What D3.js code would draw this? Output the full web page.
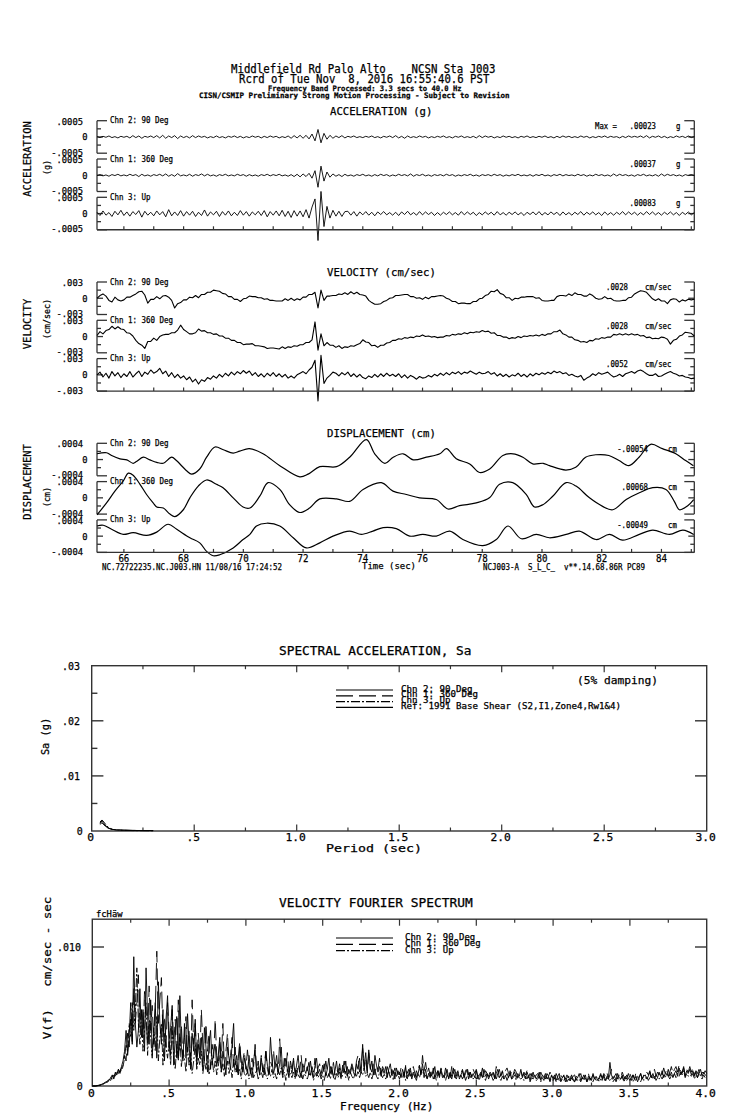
<!DOCTYPE html>
<html><head><meta charset="utf-8">
<script src="https://cdn.jsdelivr.net/npm/d3@7"></script>
<style>
body{margin:0;background:#fff}
svg{display:block}
text{font-family:"DejaVu Sans Mono","Liberation Mono",monospace;fill:#000;white-space:pre;stroke:#000;stroke-width:0.25px}
</style>
</head><body>
<svg id="chart" width="739" height="1115"></svg>
<script>
// ---------------- DATA ----------------
const channelNames = ["Chn 2: 90 Deg", "Chn 1: 360 Deg", "Chn 3: Up"];
const TIME_START = 65.1, SAMPLE_DT = 0.1;          // seconds, time-series sampling
const timeDomain = [65.1, 85.1];
const timeTickLabels = [66, 68, 70, 72, 74, 76, 78, 80, 82, 84];

// Acceleration, units of 1e-5 g
const ACC_UNIT = 1e-5;
const accChn2 = [1,-2,2,-1,3,-2,1,-3,2,-1, 2,-3,4,-2,3,-4,2,-1,3,-2, 4,-3,5,-4,3,-2,4,-5,3,-2, 2,-3,4,-2,3,-1,2,-3,1,-2,
 3,-2,1,-3,2,-1,3,-2,2,-3, 1,-2,3,-1,2,-3,2,-2,3,-1, 2,-3,1,-2,3,-4,4,-3,5,-4, 5,-6,9,-12,23,-18,11,-7,5,-4,
 3,-2,4,-3,2,-1,3,-2,1,-2, 2,-1,3,-2,1,-3,2,-1,3,-2, 4,-3,2,-4,3,-2,1,-2,3,-1, 2,-3,1,-2,2,-1,3,-2,1,-3,
 2,-1,3,-2,1,-2,2,-3,4,-2, 3,-1,2,-3,1,-2,3,-1,2,-2, 1,-3,2,-1,3,-2,1,-2,2,-1, 3,-2,1,-3,2,-2,3,-1,2,-2,
 1,-2,3,-1,2,-3,1,-2,2,-1, 3,-2,2,-1,1,-3,2,-2,3,-1, 2,-1,3,-2,4,-3,2,-1,3,-2, 2,-3,1,-2,3,-1,2,-2,3,-2, 1];
const accChn1 = [-1,2,-2,1,-3,2,-1,3,-2,1, -2,3,-1,2,-4,3,-2,1,-3,2, -1,3,-2,4,-3,2,-3,5,-2,1, -2,3,-3,2,-1,4,-2,3,-2,1,
 -3,2,-1,3,-2,1,-2,3,-1,2, -3,2,-2,1,-3,2,-1,3,-2,2, -1,3,-2,1,-3,2,-4,3,-5,4, -4,6,-9,14,-37,28,-18,10,-6,4,
 -3,2,-4,3,-2,1,-3,2,-1,3, -2,1,-3,2,-2,3,-1,2,-3,1, -2,3,-1,2,-2,4,-3,2,-1,3, -2,1,-3,2,-1,2,-2,3,-1,2,
 -3,1,-2,2,-1,3,-2,1,-3,2, -1,2,-2,3,-1,2,-3,1,-2,2, -1,3,-2,1,-2,2,-3,2,-1,3, -2,1,-3,2,-1,3,-2,2,-1,1,
 -2,3,-1,2,-3,1,-2,3,-1,2, -2,1,-3,4,-2,3,-1,2,-2,1, -3,2,-1,3,-2,1,-2,2,-3,4, -2,3,-1,2,-2,1,-3,2,-1,2, -1];
const accChn3 = [4,-6,8,-5,3,-9,7,-4,10,-6, 5,-8,6,-3,9,-11,7,-5,4,-7, 8,-4,6,-10,12,-7,5,-6,9,-8, 6,-5,7,-9,4,-6,11,-8,5,-4,
 7,-9,6,-5,8,-7,4,-6,9,-5, 6,-8,5,-4,7,-6,9,-10,6,-5, 8,-7,10,-9,7,-12,9,-8,8,-10, 12,-14,20,45,-83,68,-40,22,-14,10,
 -8,7,-9,6,7,-5,6,-8,5,-4, 6,-5,4,-7,5,-3,6,-4,3,-5, 4,-6,5,-3,7,-4,3,-5,6,-4, 5,-3,4,-6,3,-5,4,-3,5,-4,
 3,-5,6,-4,5,-3,4,-6,3,-4, 5,-3,4,-5,6,-4,3,-5,4,-3, 5,-4,3,-6,4,-3,5,-4,6,-5, 3,-4,5,-3,4,-6,5,-4,3,-5,
 4,-3,6,-5,4,-3,5,-4,3,-6, 5,-4,3,-5,4,-3,6,-4,5,-3, 4,-5,3,-4,6,-3,5,-4,3,-5, 4,-3,5,-4,3,-6,4,-3,5,-4, 3];
const accTickLabels = [".0005", "0", "-.0005"];
const accMaxLabels = [".00023", ".00037", ".00083"];

// Velocity, units of 1e-4 cm/sec
const VEL_UNIT = 1e-4;
const velChn2 = [0,5,8,4,-4,-7,2,-3,-5,-3, 2,2,5,8,12,13,6,-9,-2,-2, 3,-1,4,5,2,-4,-18,-10,-8,-3, -3,2,1,5,1,7,7,11,11,15,
 14,13,9,8,3,3,-2,-2,-6,-1, 0,4,3,3,1,1,-2,-1,-4,-4, -5,-5,-5,-1,-4,0,-4,-1,-3,2, 2,7,7,11,-18,15,-4,4,4,5,
 5,8,7,10,7,12,8,11,7,6, 4,-4,-8,-11,-11,-10,-6,-4,0,1, 5,5,6,7,7,3,3,0,1,-2, 2,-1,3,3,4,5,4,0,-2,-6,
 -6,-10,-9,-9,-10,-10,-6,-6,-1,0, 5,7,13,12,16,9,7,1,1,-4, 0,-1,2,2,3,3,3,0,1,-4, -5,-5,-4,-4,3,5,5,4,8,5,
 10,7,7,4,4,8,5,0,-2,-1, 3,-1,0,-4,-5,-5,-4,-4,1,2, 8,11,14,13,11,5,-1,-4,-1,-5, -5,-10,-3,-1,-2,-7,-3,-5,-2,-3, -2];
const velChn1 = [2,9,5,11,13,19,14,18,14,13, 7,6,1,-7,-13,-16,-22,-9,-9,-3, -7,0,3,4,4,7,7,12,21,13, 9,5,5,7,14,10,11,7,7,4,
 5,1,1,-3,-3,-7,-7,-11,-11,-15, -14,-14,-13,-17,-17,-18,-19,-22,-21,-21, -22,-23,-19,-22,-19,-20,-17,-18,-15,-15, -11,-11,-6,27,-25,5,-17,-11,-16,-16,
 -20,-17,-22,-19,-20,-17,-18,-15,-13,-6, -10,-11,-17,-16,-20,-16,-16,-12,-11,-7, -7,-4,-5,-2,-3,-1,-2,1,0,3, 0,1,-1,0,-2,-1,-1,2,1,4,
 3,5,4,7,5,8,7,9,8,11, 9,10,6,7,2,2,-1,-1,-4,-2, -3,0,-2,1,0,2,1,3,1,4, 2,5,5,9,9,12,5,3,-1,-1,
 -6,-7,-10,-9,-11,-7,-8,-4,-5,-2, -3,-1,-1,4,3,5,3,5,3,5, 3,4,1,2,-2,-1,-4,-3,-4,-1, -2,-5,-14,-7,-5,1,3,8,7,6, 1];
const velChn3 = [0,5,-4,3,-6,6,-2,4,-5,2, -3,6,-4,2,7,-3,5,1,9,3, 6,12,2,7,-3,4,-5,1,-6,-2, -9,-4,-13,-8,-17,-9,-12,-5,-8,-2,
 -6,1,-4,3,-2,5,0,6,2,8, 3,7,-1,4,-3,2,-4,3,-2,4, -3,2,-4,1,-6,-2,-6,0,3,6, 2,9,14,27,-48,36,-16,-6,-1,5,
 3,-2,4,0,5,-3,2,-4,1,-5, -7,-2,-5,1,-4,2,-3,3,-2,1, -3,2,-5,0,-6,-1,-4,-8,-3,-6, -5,-1,-4,1,-2,3,-1,4,0,5,
 2,6,1,5,3,7,4,1,5,2, 3,6,1,4,-2,2,-3,1,-4,0, -2,3,-3,1,-4,2,-2,3,0,4, 1,5,2,7,4,6,2,4,-1,1,
 -2,-4,-1,-10,-6,-3,2,-1,4,1, 3,5,0,-4,-2,1,-3,2,4,6, 3,7,9,6,2,-1,-1,2,-3,-2, 1,4,6,3,1,-2,-1,-4,-5,-7, -6];
const velTickLabels = [".003", "0", "-.003"];
const velMaxLabels = [".0028", ".0028", ".0052"];

// Displacement, units of 1e-6 cm (time, value pairs read at turning points)
const DISP_UNIT = 1e-6;
const dispChn2Time = [65.10,65.42,65.59,65.87,66.10,66.31,66.42,66.65,66.87,67.10,67.32,67.60,67.76,68.10,68.27,68.54,68.77,69.05,69.33,69.66,69.88,70.20,70.66,71.22,71.89,72.17,72.56,73.12,73.56,74.12,74.40,74.74,75.02,75.35,75.69,76.13,76.58,76.80,77.13,77.58,77.91,78.25,78.69,79.03,79.36,79.69,80.04,80.25,80.80,81.13,81.46,81.80,82.24,82.58,82.91,83.25,83.64,84.03,84.48,84.81,85.07];
const dispChn2 = [142,168,100,18,-8,-92,-50,58,-8,-68,-92,58,-25,-275,-358,-233,58,308,242,158,208,268,142,-150,-425,-358,-175,-175,58,492,142,-92,58,142,-8,58,142,268,18,-108,-318,-233,100,142,58,-108,-92,-150,-258,-192,58,118,100,-25,-150,58,375,268,142,-25,-150];
const dispChn1Time = [65.10,65.42,65.70,65.98,66.15,66.31,66.54,66.76,66.98,67.10,67.32,67.54,67.71,67.99,68.21,68.49,68.77,69.10,69.32,69.66,69.99,70.22,70.55,70.83,71.22,71.55,71.89,72.22,72.56,73.12,73.56,74.01,74.62,75.01,75.46,75.90,76.46,76.85,77.24,77.80,78.24,78.58,79.02,79.47,79.75,80.03,80.36,80.81,81.14,81.59,82.03,82.37,82.82,83.26,83.71,84.15,84.43,84.60,84.88,85.08];
const dispChn1 = [-418,-125,165,415,608,558,333,83,-125,-225,-250,-400,-460,-293,0,290,440,333,250,0,-225,-250,40,375,208,-168,-360,-250,-25,-25,-85,208,375,165,83,0,-42,-275,-193,-125,0,333,375,83,-225,-168,40,375,290,0,-210,-293,-42,125,250,208,-85,-293,-193,-42];
const dispChn3Time = [65.10,65.31,65.59,65.98,66.31,66.76,67.10,67.48,67.77,68.21,68.54,68.77,68.99,69.21,69.66,69.99,70.22,70.44,70.78,71.22,71.67,72.11,72.56,73.00,73.56,73.95,74.34,74.68,75.12,75.57,76.01,76.46,76.91,77.35,78.02,78.47,78.86,79.31,79.81,80.25,80.81,81.25,81.81,82.26,82.70,83.26,83.71,84.27,84.72,85.08];
const dispChn3 = [250,268,168,43,85,18,100,293,168,-40,-165,-375,-483,-458,-290,-83,43,250,318,250,-40,-290,-165,0,125,43,125,210,185,0,43,0,125,-83,-233,-83,250,-65,43,-40,43,125,-83,43,-100,43,150,43,150,43];
const dispTickLabels = [".0004", "0", "-.0004"];
const dispMaxLabels = ["-.00054", ".00068", "-.00049"];

// Spectral acceleration (5% damping), g versus period (sec)
const saPeriods = [0.04,0.05,0.06,0.07,0.08,0.09,0.10,0.12,0.15,0.20,0.25,0.30];
const saChn2 = [0.0012,0.0015,0.0011,0.0008,0.0005,0.0004,0.0003,0.0002,0.00015,0.0001,0.00008,0.00007];
const saChn1 = [0.0014,0.0018,0.0013,0.0009,0.0006,0.0004,0.0003,0.00022,0.00016,0.00011,0.00009,0.00008];
const saChn3 = [0.0016,0.0020,0.0016,0.0011,0.0007,0.0005,0.0003,0.0002,0.00012,0.00008,0.00006,0.00005];
const saXTicks = ["0", ".5", "1.0", "1.5", "2.0", "2.5", "3.0"];
const saYTicks = [".03", ".02", ".01", "0"];
const saLegend = ["Chn 2: 90 Deg", "Chn 1: 360 Deg", "Chn 3: Up", "Ref: 1991 Base Shear (S2,I1,Zone4,Rw1&4)"];

// Velocity Fourier spectrum, units of 1e-4 cm/sec-sec, frequency step 0.01 Hz (0 .. 4 Hz)
const FOURIER_UNIT = 1e-4, FREQ_STEP = 0.01;
const fourierChn2 = [
 0,0,0,0.2,0.4,0.6,1,1.5,2,2.5, 3,5,4,7,6,9,8,12,10,14, 18,25,40,22,35,60,30,93,45,28, 40,70,35,55,25,85,50,30,62,22,
 38,60,20,75,45,30,55,18,48,65, 25,42,58,15,35,50,20,65,28,18, 45,20,52,30,12,38,25,48,15,30, 20,35,12,42,28,10,30,40,15,25,
 30,14,22,35,10,25,18,8,28,20, 12,30,45,15,22,8,28,18,10,20, 15,9,22,12,6,18,26,10,14,8, 20,12,8,25,15,10,35,18,9,14,
 22,10,16,28,8,14,20,12,6,18, 12,20,8,15,22,10,6,16,12,9, 14,8,18,10,6,15,20,9,12,7, 10,16,7,12,20,9,14,6,11,18,
 8,13,6,15,10,18,7,12,9,14, 10,7,16,12,20,9,30,14,24,11, 26,12,18,8,22,15,10,14,7,12, 9,14,6,12,16,8,11,5,13,8,
 10,6,12,8,14,5,9,13,7,10, 6,11,8,14,9,16,7,12,5,9, 10,7,13,5,9,11,6,12,8,6, 9,12,5,10,7,13,6,9,11,5,
 8,11,6,9,12,5,10,7,9,6, 11,5,8,10,6,12,7,9,5,8, 7,10,5,9,12,6,8,11,5,7, 9,6,11,5,8,10,6,9,7,12,
 6,9,5,10,7,4,9,6,8,5, 7,10,4,8,6,9,5,7,4,8, 5,8,4,7,9,4,6,8,3,6, 7,4,8,5,3,7,6,9,4,6,
 5,8,3,7,6,4,9,5,7,4, 6,9,5,8,4,7,6,17,8,5, 7,4,9,6,5,8,4,7,5,9, 6,4,8,5,7,3,6,9,5,7,
 8,5,7,10,6,9,5,8,6,10, 7,11,6,9,8,12,7,10,6,9, 11,7,13,8,10,14,7,11,9,12, 8,11,7,10,6,9,12,7,10,8, 7];
const fourierChn1 = [
 0,0,0,0.3,0.5,0.8,1.2,1.6,2.5,3, 4,3,6,8,5,10,7,12,9,13, 15,22,18,38,28,48,32,70,45,60, 80,42,55,35,68,48,30,72,40,58,
 30,55,97,45,62,78,35,50,28,60, 40,22,55,30,48,18,62,25,44,20, 35,50,22,40,15,62,30,45,18,38, 22,55,28,18,45,25,38,12,30,20,
 48,22,15,33,20,45,12,25,38,16, 22,35,14,28,10,20,32,12,18,25, 12,26,15,9,20,14,30,10,18,8, 22,10,16,25,12,8,18,14,26,11,
 16,9,34,14,8,20,12,24,10,15, 9,18,12,7,16,10,22,8,13,20, 11,17,8,14,10,20,7,13,16,9, 15,9,18,11,7,14,10,17,8,12,
 10,16,8,12,18,9,14,7,11,16, 12,8,18,22,10,14,27,12,20,9, 24,13,10,18,8,15,12,20,9,14, 11,8,14,10,6,12,9,13,7,11,
 8,13,10,6,15,9,12,7,11,14, 9,6,12,15,8,22,11,17,9,13, 7,12,9,14,6,11,8,13,10,7, 13,8,11,6,14,9,12,7,10,8,
 9,12,7,11,14,8,10,6,12,9, 12,7,10,8,13,6,11,9,7,10, 8,11,6,14,9,12,7,10,8,11, 13,9,7,11,8,12,10,6,9,11,
 7,10,8,11,6,9,7,10,5,8, 9,6,10,7,8,5,9,7,10,6, 7,5,9,6,4,8,6,7,5,8, 6,9,5,7,8,4,7,6,9,5,
 8,5,7,9,4,6,8,5,7,6, 5,8,6,9,7,10,5,8,12,6, 7,9,5,8,6,10,7,5,8,6, 9,6,8,5,10,7,6,9,5,8,
 7,10,8,11,6,9,12,7,10,8, 11,8,13,9,12,7,10,14,9,12, 14,10,15,11,9,13,8,12,10,14, 10,13,8,11,9,12,7,10,9,11, 9];
const fourierChn3 = [
 0,0,0,0.1,0.3,0.5,0.8,1.2,2,2.5, 3,4,6,5,8,7,10,9,12,11, 14,20,30,25,45,35,60,40,55,85, 45,30,55,25,40,60,22,48,35,20,
 42,25,50,18,35,45,15,38,28,20, 32,15,40,22,12,30,18,35,14,25, 20,10,28,15,24,9,18,30,12,20, 15,25,9,18,12,22,8,16,20,10,
 18,8,14,22,10,16,7,12,18,9, 14,6,20,10,15,8,12,5,16,9, 7,12,5,10,14,6,9,11,5,8, 10,6,13,8,5,11,7,12,6,9,
 5,11,8,13,6,10,4,12,7,9, 6,10,5,12,8,6,11,5,9,7, 5,9,7,11,4,8,10,6,9,5, 8,4,10,6,9,5,11,7,4,9,
 6,10,5,8,12,6,9,4,10,7, 5,9,7,11,6,10,8,13,7,9, 6,10,5,9,12,7,5,10,8,6, 9,5,8,11,6,9,4,10,7,8,
 5,9,6,10,4,8,7,11,5,9, 7,4,9,6,10,12,6,8,5,9, 6,10,5,8,4,9,7,11,6,8, 4,8,6,9,5,10,7,5,9,6,
 8,5,9,4,7,10,6,8,5,7, 5,8,4,9,6,7,4,8,6,9, 7,4,8,5,9,6,4,7,5,8, 4,7,9,5,6,8,4,7,6,5,
 6,4,7,5,8,3,6,5,7,4, 5,7,3,6,4,8,5,6,3,7, 4,6,3,5,7,3,5,4,6,3, 5,3,6,4,3,6,4,5,3,6,
 4,6,3,5,7,4,3,6,4,5, 3,5,4,7,3,6,5,4,6,3, 5,3,6,4,5,7,3,5,4,6, 4,6,3,5,4,7,5,3,6,4,
 5,7,4,6,8,5,7,4,6,5, 7,5,8,6,9,7,5,8,6,9, 6,9,7,10,8,11,6,9,7,8, 7,9,5,8,6,10,7,5,8,6, 6];
const fourierXTicks = ["0", ".5", "1.0", "1.5", "2.0", "2.5", "3.0", "3.5", "4.0"];
const fourierLegend = ["Chn 2: 90 Deg", "Chn 1: 360 Deg", "Chn 3: Up"];

// ---------------- DRAWING ----------------
const svg = d3.select("#chart");
const INK = "#000", FRAME = "#333";
const dashStyles = [null, "17,6", "9,2,2,2"];

function label(sel, s, x, y, o = {}) {
  const size = o.size || 9, cw = o.cw || size * 0.6;
  const t = sel.append("text").attr("x", x).attr("y", y).text(s)
    .attr("font-size", size).attr("dominant-baseline", "central")
    .attr("text-anchor", o.anchor || "start")
    .attr("textLength", s.length * cw).attr("lengthAdjust", "spacingAndGlyphs");
  if (o.rotate) t.attr("transform", `rotate(${o.rotate},${x},${y})`);
  if (o.weight) t.attr("font-weight", o.weight);
  return t;
}
function seg(sel, x1, y1, x2, y2, w = 1.3) {
  sel.append("line").attr("x1", x1).attr("y1", y1).attr("x2", x2).attr("y2", y2)
    .attr("stroke", FRAME).attr("stroke-width", w);
}

// Header
label(svg, "Middlefield Rd Palo Alto    NCSN Sta J003", 231, 69, {size: 11.5, cw: 6.45});
label(svg, "Rcrd of Tue Nov  8, 2016 16:55:40.6 PST", 239, 78.5, {size: 11.5, cw: 6.42});
label(svg, "Frequency Band Processed: 3.3 secs to 40.0 Hz", 268, 88.8, {size: 7.5, cw: 4.3, weight: "bold"});
label(svg, "CISN/CSMIP Preliminary Strong Motion Processing - Subject to Revision", 199, 95.8, {size: 7.5, cw: 4.5, weight: "bold"});

// Time series groups
const x = d3.scaleLinear().domain(timeDomain).range([97, 694.3]);
const GROUP_TOP0 = 120.7, GROUP_STEP = 161.3, PANEL_STEP = 38.3, PANEL_H = 32.5;
const L = 97, R = 694.3;

const groups = [
  {title: "ACCELERATION (g)", titleX: 330, side: "ACCELERATION", sideY: 159, unitLbl: "(g)", unitY: 167.5,
   range: 0.0005, ticks: accTickLabels, maxes: accMaxLabels, unit: "g", valRight: 656, unitX: 676, prefix: true,
   series: [accChn2, accChn1, accChn3].map(a => a.map((v, i) => [TIME_START + i * SAMPLE_DT, v * ACC_UNIT])),
   curve: d3.curveLinear, width: 0.9},
  {title: "VELOCITY (cm/sec)", titleX: 327, side: "VELOCITY", sideY: 324, unitLbl: "(cm/sec)", unitY: 319,
   range: 0.003, ticks: velTickLabels, maxes: velMaxLabels, unit: "cm/sec", valRight: 628, unitX: 645, prefix: false,
   series: [velChn2, velChn1, velChn3].map(a => a.map((v, i) => [TIME_START + i * SAMPLE_DT, v * VEL_UNIT])),
   curve: d3.curveLinear, width: 1.1},
  {title: "DISPLACEMENT (cm)", titleX: 327, side: "DISPLACEMENT", sideY: 482, unitLbl: "(cm)", unitY: 497,
   range: 0.0004, ticks: dispTickLabels, maxes: dispMaxLabels, unit: "cm", valRight: 648, unitX: 668, prefix: false,
   series: [[dispChn2Time, dispChn2], [dispChn1Time, dispChn1], [dispChn3Time, dispChn3]]
     .map(([ts, vs]) => ts.map((t, i) => [t, vs[i] * DISP_UNIT])),
   curve: d3.curveCatmullRom.alpha(0.5), width: 1.2}
];

groups.forEach((G, g) => {
  const gTop = GROUP_TOP0 + g * GROUP_STEP;
  const grp = svg.append("g");
  label(grp, G.title, G.titleX, gTop - 9.5, {size: 11, cw: 6.4});
  label(grp, G.side, 27, G.sideY, {size: 10.5, cw: 6.3, anchor: "middle", rotate: -90});
  label(grp, G.unitLbl, 47, G.unitY, {size: 8.5, cw: 5, anchor: "middle", rotate: -90});

  G.series.forEach((data, k) => {
    const top = gTop + k * PANEL_STEP, bot = top + PANEL_H;
    const y = d3.scaleLinear().domain([-G.range, G.range]).range([bot, top]);
    [[L, 1], [R, -1]].forEach(([ex, dir]) => {
      seg(grp, ex, top, ex, bot);
      seg(grp, ex, top, ex + dir * 10, top);
      seg(grp, ex, bot, ex + dir * 10, bot);
      seg(grp, ex, y(G.range / 2), ex + dir * 4, y(G.range / 2));
      seg(grp, ex, y(0), ex + dir * 6, y(0));
      seg(grp, ex, y(-G.range / 2), ex + dir * 4, y(-G.range / 2));
    });
    label(grp, G.ticks[0], 83, top + 0.3, {size: 9.5, cw: 5.3, anchor: "end"});
    label(grp, G.ticks[1], 87.5, y(0), {size: 9.5, cw: 5.3, anchor: "end"});
    label(grp, G.ticks[2], 83, bot - 1, {size: 9.5, cw: 5.3, anchor: "end"});
    label(grp, channelNames[k], 110, top, {size: 8, cw: 4.5});
    if (G.prefix && k === 0) label(grp, "Max =", 595, top + 5.5, {size: 8, cw: 4.4});
    label(grp, G.maxes[k], G.valRight, top + 5.7, {size: 8, cw: 4.4, anchor: "end"});
    label(grp, G.unit, G.unitX, top + 5.7, {size: 8, cw: 4.4});
    grp.append("path").datum(data)
      .attr("d", d3.line().x(d => x(d[0])).y(d => y(d[1])).curve(G.curve))
      .attr("fill", "none").attr("stroke", INK).attr("stroke-width", G.width).attr("stroke-linejoin", "round");
  });
  const axisY = gTop + 2 * PANEL_STEP + PANEL_H;
  seg(grp, L, axisY, R, axisY, 1.4);
  d3.range(66, 86).forEach(t => seg(grp, x(t), axisY, x(t), axisY - 3.5, 1.2));
  if (g === 2) {
    timeTickLabels.forEach(t => label(grp, String(t), x(t), axisY + 6, {size: 10, cw: 5.5, anchor: "middle"}));
    label(grp, "Time (sec)", 362, axisY + 13.5, {size: 9.5, cw: 5.4});
    label(grp, "NC.72722235.NC.J003.HN 11/08/16 17:24:52", 102, axisY + 15, {size: 8, cw: 4.5});
    label(grp, "NCJ003-A  S_L_C_  v**.14.68.86R PC89", 483, axisY + 15, {size: 8, cw: 4.5});
  }
});

// ---------- framed plots ----------
function framedPlot(xs, ys, xMajor, xMinor, yMajor, yMinor) {
  const g = svg.append("g");
  const [x0, x1] = xs.range(), [y0, y1] = ys.range();
  g.append("rect").attr("x", x0).attr("y", y1).attr("width", x1 - x0).attr("height", y0 - y1)
    .attr("fill", "none").attr("stroke", FRAME).attr("stroke-width", 1.4);
  xMajor.forEach(v => { seg(g, xs(v), y1, xs(v), y1 + 6.5, 1.2); seg(g, xs(v), y0, xs(v), y0 - 6.5, 1.2); });
  xMinor.forEach(v => { seg(g, xs(v), y1, xs(v), y1 + 3.5, 1.2); seg(g, xs(v), y0, xs(v), y0 - 3.5, 1.2); });
  yMajor.forEach(v => { seg(g, x0, ys(v), x0 + 11.7, ys(v), 1.4); seg(g, x1, ys(v), x1 - 11.7, ys(v), 1.4); });
  yMinor.forEach(v => seg(g, x0, ys(v), x0 + 5.7, ys(v), 1.4));
  return g;
}

// ---------- Spectral acceleration ----------
const sx = d3.scaleLinear().domain([0, 3]).range([91.7, 706.7]);
const sy = d3.scaleLinear().domain([0, 0.03]).range([831, 665.7]);
const sg = framedPlot(sx, sy, [0.5, 1, 1.5, 2, 2.5], [0.25, 0.75, 1.25, 1.75, 2.25, 2.75], [0.01, 0.02], [0.005, 0.015, 0.025]);
label(sg, "SPECTRAL ACCELERATION, Sa", 279, 651, {size: 12, cw: 7.7});
saYTicks.forEach((s, i) => label(sg, s, s === "0" ? 82.7 : 80, sy(0.03 - i * 0.01), {size: 10.5, cw: 6, anchor: "end"}));
saXTicks.forEach((s, i) => label(sg, s, sx(i * 0.5) - 1, 837, {size: 10.5, cw: 6.8, anchor: "middle"}));
label(sg, "Period (sec)", 374, 848, {size: 10.5, cw: 8, anchor: "middle"});
label(sg, "Sa (g)", 45, 736.5, {size: 10.5, cw: 6.2, anchor: "middle", rotate: -90});
label(sg, "(5% damping)", 577, 680, {size: 11, cw: 6.75});
[saChn2, saChn1, saChn3].forEach((vals, k) => {
  sg.append("path").datum(vals.map((v, i) => [saPeriods[i], v]))
    .attr("d", d3.line().x(d => sx(d[0])).y(d => sy(d[1])))
    .attr("fill", "none").attr("stroke", INK).attr("stroke-width", 1)
    .attr("stroke-dasharray", dashStyles[k]);
});
saLegend.forEach((s, i) => {
  const yy = 689 + i * 5.8;
  sg.append("line").attr("x1", 336).attr("x2", 393).attr("y1", yy + 1).attr("y2", yy + 1)
    .attr("stroke", INK).attr("stroke-width", 1.2).attr("stroke-dasharray", i < 3 ? dashStyles[i] : null);
  label(sg, s, 401, yy, {size: 8, cw: 5.5});
});

// ---------- Velocity Fourier spectrum ----------
const fx = d3.scaleLinear().domain([0, 4]).range([92.3, 706.7]);
const fy = d3.scaleLinear().domain([0, 0.012]).range([1086, 919.2]);
const fg = framedPlot(fx, fy, [0.5, 1, 1.5, 2, 2.5, 3, 3.5], [0.25, 0.75, 1.25, 1.75, 2.25, 2.75, 3.25, 3.75], [0.005, 0.010], []);
label(fg, "VELOCITY FOURIER SPECTRUM", 279, 903, {size: 12, cw: 7.75});
label(fg, ".010", 81, fy(0.010), {size: 10.5, cw: 6, anchor: "end"});
label(fg, "0", 82.7, fy(0), {size: 10.5, cw: 6, anchor: "end"});
fourierXTicks.forEach((s, i) => label(fg, s, fx(i * 0.5) - 1, 1092.5, {size: 10.5, cw: 6.8, anchor: "middle"}));
label(fg, "Frequency (Hz)", 340, 1105.5, {size: 10.5, cw: 6.67});
label(fg, "V(f)   cm/sec - sec", 47, 968, {size: 10.5, cw: 7.5, anchor: "middle", rotate: -90});
label(fg, "fcHäw", 96, 913.5, {size: 8.5, cw: 5.3});
[fourierChn2, fourierChn1, fourierChn3].forEach((vals, k) => {
  fg.append("path").datum(vals.map((v, i) => [i * FREQ_STEP, v * FOURIER_UNIT]))
    .attr("d", d3.line().x(d => fx(d[0])).y(d => fy(d[1])))
    .attr("fill", "none").attr("stroke", INK).attr("stroke-width", 0.9)
    .attr("stroke-dasharray", dashStyles[k]);
});
fourierLegend.forEach((s, i) => {
  const yy = 937 + i * 6.3;
  fg.append("line").attr("x1", 336).attr("x2", 393).attr("y1", yy + 1).attr("y2", yy + 1)
    .attr("stroke", INK).attr("stroke-width", 1.2).attr("stroke-dasharray", dashStyles[i]);
  label(fg, s, 405, yy, {size: 8.5, cw: 5.4});
});
</script>
</body></html>
